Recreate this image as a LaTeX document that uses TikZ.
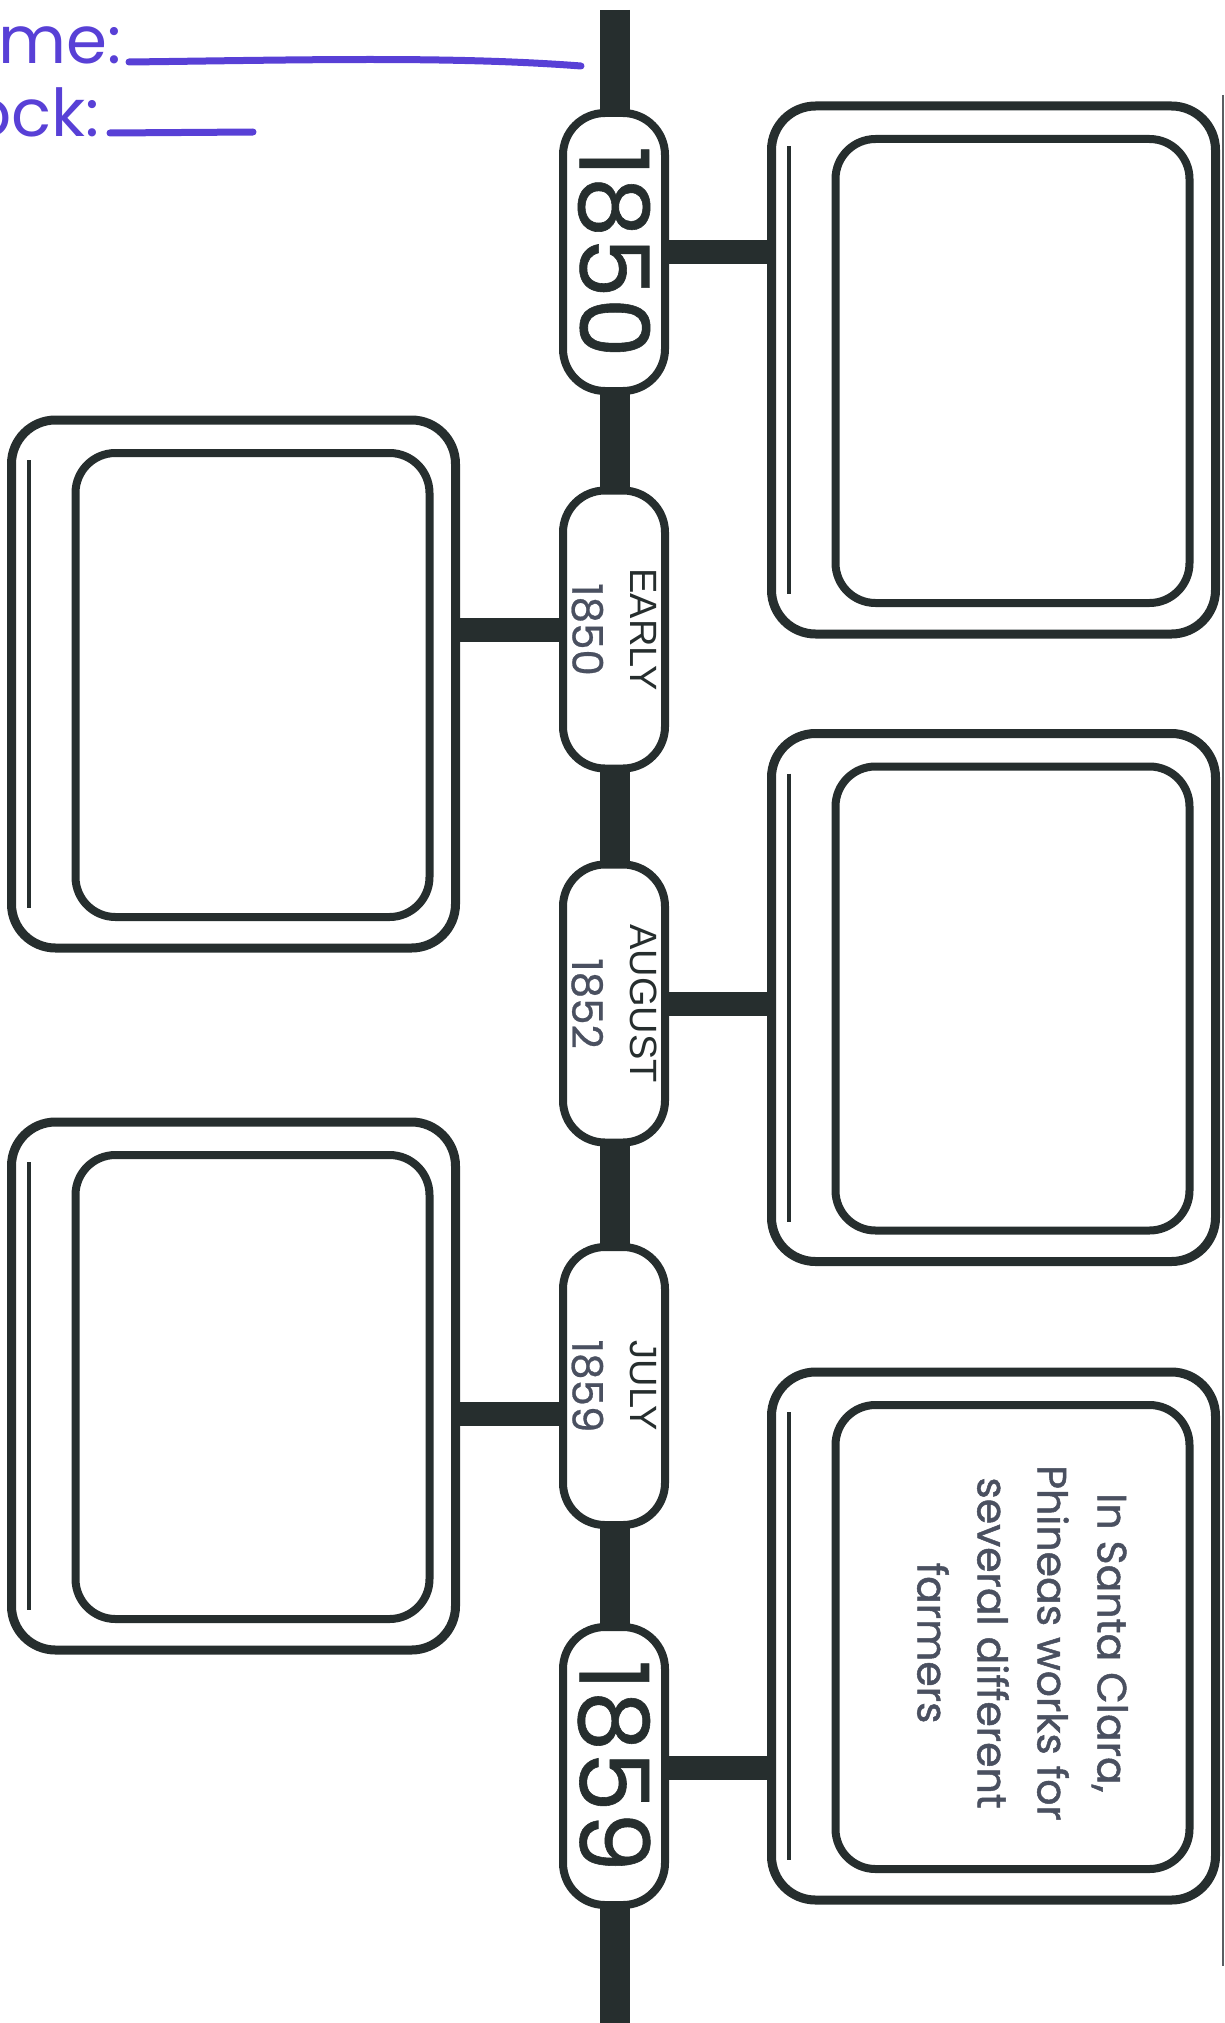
\documentclass[tikz,border=0pt]{standalone}
\usepackage{fontspec}
\setmainfont{Poppins}
\newfontfamily\arialf{Liberation Sans}
\newfontfamily\boldish[FakeBold=1.2]{Poppins}
\newfontfamily\semibold[FakeBold=0.6]{Poppins}
\usetikzlibrary{backgrounds}
\definecolor{ink}{RGB}{38,46,46}
\definecolor{txt}{RGB}{74,80,96}
\definecolor{pen}{RGB}{88,64,214}
\definecolor{edge}{RGB}{90,94,98}
\begin{document}
\begin{tikzpicture}[x=0.5pt,y=-0.5pt,
  outerbox/.style={draw=ink,line width=4.5pt,rounded corners=22pt,fill=white,minimum width=222pt,minimum height=264pt,inner sep=0pt},
  innerbox/.style={draw=ink,line width=4pt,rounded corners=20pt,minimum width=177pt,minimum height=232pt,inner sep=0pt},
  pill/.style={draw=ink,line width=4pt,rounded corners=21pt,fill=white,rotate=-90,minimum width=139pt,minimum height=51pt,inner sep=0pt,align=center},
  bar/.style={draw=ink,line width=15pt},
  conn/.style={draw=ink,line width=12pt},
  thinline/.style={draw=ink,line width=2pt},
  bigyear/.style={font=\semibold\fontsize{48}{48}\selectfont,text=ink},
  smallyear/.style={font=\semibold\fontsize{21}{29}\selectfont,text=txt},
  penline/.style={draw=pen,line width=3.5pt,line cap=round},
  pentext/.style={text=pen,font=\fontsize{33}{33}\selectfont,inner sep=0pt,anchor=base east}
]
\useasboundingbox (0,0) rectangle (1225,2023);

% header
\node[pentext] (nm) at (122,64) {Name:};
\node[pentext] (bk) at (100,137) {Block:};
\coordinate (n1) at (129,62);
\coordinate (n2) at (581,66);
\coordinate (k1) at (110,133);
\coordinate (k2) at (253,132);
\draw[penline] (n1) .. controls (300,60) and (450,56) .. (n2);
\draw[penline] (k1) -- (k2);

% page edge
\coordinate (e1) at (1223,95);
\coordinate (e2) at (1223,1966);
\draw[edge,line width=1.2pt] (e1) -- (e2);

% boxes
\node[outerbox] (b1) at (993.5,370) {};
\node[outerbox] (b2) at (233.5,684) {};
\node[outerbox] (b3) at (993.5,997.5) {};
\node[outerbox] (b4) at (233.5,1386) {};
\node[outerbox] (b5) at (993.5,1636) {};
\foreach \b in {b1,b2,b3,b4,b5}{
  \node[innerbox] (\b i) at ([xshift=9.5pt,yshift=-0.5pt]\b.center) {};
  \draw[thinline] ([xshift=-102.5pt,yshift=112pt]\b.center) -- ([xshift=-102.5pt,yshift=-112pt]\b.center);
}

% pills
\node[pill,bigyear] (p1) at (614,252) {1850};
\node[pill,smallyear] (p2) at (614,629.5) {{\arialf\fontsize{19}{29}\selectfont\color{ink}EARLY}\\1850};
\node[pill,smallyear] (p3) at (614,1003.5) {{\arialf\fontsize{19}{29}\selectfont\color{ink}AUGUST}\\1852};
\node[pill,smallyear] (p4) at (614,1386) {{\arialf\fontsize{19}{29}\selectfont\color{ink}JULY}\\1859};
\node[pill,bigyear] (p5) at (614,1766) {1859};

% text
\node[rotate=-90,align=center,text=txt,font=\boldish\fontsize{20.5}{30}\selectfont,inner sep=0pt] (t5) at ([xshift=5pt,yshift=-3pt]b5i.center) {In Santa Clara,\\Phineas works for\\several different\\farmers};

% bar and connectors behind
\begin{scope}[on background layer]
\coordinate (top) at (615,10);
\coordinate (bot) at (615,2030);
\draw[bar] (top) -- (bot);
\draw[conn] (p1.center) -- (p1.center -| b1.center);
\draw[conn] (p2.center) -- (p2.center -| b2.center);
\draw[conn] (p3.center) -- (p3.center -| b3.center);
\draw[conn] ([yshift=-14pt]p4.center) -- ([yshift=-14pt]p4.center -| b4.center);
\draw[conn] ([yshift=-1pt]p5.center) -- ([yshift=-1pt]p5.center -| b5.center);
\end{scope}
\end{tikzpicture}
\end{document}
